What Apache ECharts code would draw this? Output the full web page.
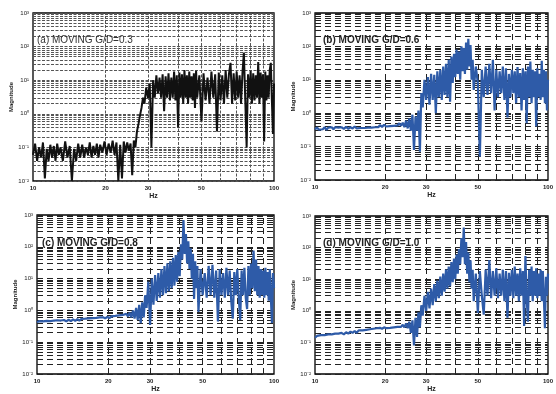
<!DOCTYPE html>
<html>
<head>
<meta charset="utf-8">
<script src="https://cdn.jsdelivr.net/npm/echarts@6/dist/echarts.min.js"></script>
<style>html,body{margin:0;padding:0;background:#fff}#c{width:556px;height:394px}</style>
</head>
<body>
<div id="c"></div>
<script>
// Frequencies (Hz) shared by all four spectra
const hz = [10,10.2,10.4,10.6,10.8,11,11.2,11.4,11.6,11.8,
12,12.2,12.4,12.6,12.8,
13,13.3,13.6,13.9,14.2,14.5,14.8,15.1,15.4,15.7,
16,16.3,16.6,16.9,17.2,17.5,17.8,18.1,18.4,18.7,19,
19.4,19.8,20.2,20.6,21,21.4,21.8,22.2,22.6,23,
23.4,23.8,24.2,24.6,25,25.4,25.8,26.2,26.6,27,
27.4,27.8,28.2,28.6,
29,29.5,30,30.5,31,31.5,32,32.5,33,33.5,
34,34.5,35,35.5,36,36.5,37,37.5,38,38.5,
39,39.5,40,40.5,41,41.5,42,42.5,43,43.5,
44,44.5,45,45.5,46,46.5,47,47.5,48,
49,50,51,52,53,54,55,56,57,58,
59,60,61,62,63,64,65,66,67,68,
69,70,71,72,73,74,75,76,77,78,
79,80,81,82,83,84,85,86,87,88,
89,90,91,92,93,94,95,96,97,98,99,100];

const magA = [0.06,0.13,0.04,0.1,0.05,0.14,0.012,0.09,0.04,0.12,
0.05,0.11,0.04,0.13,0.06,
0.1,0.04,0.15,0.05,0.11,0.01,0.09,0.04,0.13,0.05,
0.12,0.05,0.1,0.06,0.14,0.05,0.11,0.06,0.13,0.05,0.12,
0.07,0.15,0.06,0.13,0.07,0.16,0.06,0.14,0.01,0.12,
0.012,0.15,0.07,0.14,0.08,0.13,0.015,0.16,0.1,0.3,
0.5,0.9,1.5,3,
2,6,3,8,0.1,10,3,14,4,12,
3,15,1.2,13,3,16,2.5,12,3,18,
2.5,14,0.4,17,3,15,2,20,3,14,
2,18,3,13,2.5,16,1.5,19,3,
14,0.6,16,2.5,12,2,18,3,15,0.3,
17,2.5,14,2,20,3,15,33,2,16,
2.5,18,3,14,2,17,66,2.5,0.1,15,
3,19,2,16,2.5,14,3,35,2,17,
3,15,0.15,18,2.5,14,3,20,33,2.5,0.25,8];

const magB = [0.33,0.37,0.32,0.36,0.33,0.38,0.32,0.37,0.34,0.38,
0.33,0.38,0.34,0.37,0.33,
0.38,0.34,0.39,0.34,0.38,0.35,0.4,0.35,0.39,0.36,
0.4,0.36,0.41,0.37,0.42,0.37,0.41,0.38,0.43,0.38,0.44,
0.39,0.45,0.4,0.44,0.41,0.47,0.42,0.46,0.43,0.5,
0.42,0.52,0.38,0.6,0.35,0.7,0.3,0.9,0.08,0.8,
0.3,1.2,0.07,4,
1.5,10,2.5,12,1.8,15,2.5,14,1.0,18,
3,20,2.5,25,3.5,30,3,40,2.2,50,
8,60,12,80,15,70,10,100,18,90,
15,130,20,170,25,110,10,40,5,
25,8,0.05,20,3,25,3.5,30,4,40,
1.2,20,3,18,4,25,2.5,22,0.75,15,
3,20,4,18,2,24,3,16,1.2,22,
2.5,18,0.5,25,3,35,2,20,3,18,
0.4,22,3,15,2.5,37,3,20,2,18,1.2,10];

const magC = [0.42,0.46,0.41,0.45,0.42,0.47,0.43,0.46,0.42,0.48,
0.44,0.49,0.43,0.48,0.45,
0.5,0.45,0.51,0.46,0.52,0.47,0.53,0.48,0.54,0.49,
0.55,0.5,0.56,0.51,0.57,0.52,0.58,0.53,0.6,0.54,0.61,
0.56,0.63,0.57,0.65,0.58,0.67,0.6,0.7,0.62,0.72,
0.64,0.78,0.65,0.85,0.6,1.0,0.55,1.2,0.5,1.5,
0.4,1.8,0.6,3,
1.2,8,0.35,10,1.5,13,2,15,2.5,20,
3,25,3.5,30,4,35,5,45,6,55,
8,70,12,120,40,700,60,250,30,150,
20,90,10,60,2.3,35,5,25,0.9,
20,3,15,2.5,25,3,27,2.5,18,0.45,
20,3,15,2.5,22,3,18,2,0.55,16,
3,20,2.5,0.5,18,3,22,2.5,1.1,25,
3,30,5,76,4,40,3,25,2.5,20,
3,18,2.5,22,3,16,2,20,2.5,0.4,15,5];

const magD = [0.14,0.16,0.14,0.17,0.15,0.17,0.15,0.18,0.16,0.18,
0.16,0.19,0.17,0.19,0.17,
0.2,0.18,0.21,0.19,0.22,0.2,0.23,0.2,0.24,0.21,
0.24,0.22,0.25,0.23,0.26,0.24,0.27,0.25,0.28,0.26,0.29,
0.27,0.3,0.28,0.31,0.29,0.32,0.3,0.33,0.31,0.34,
0.31,0.36,0.3,0.4,0.28,0.45,0.2,0.5,0.08,0.6,
0.15,0.9,0.3,1.5,
0.7,3,1.0,4,1.2,5,1.5,7,2,9,
2.5,12,3,15,4,20,5,25,6,35,
8,45,10,60,15,90,30,200,50,430,
30,150,15,70,8,40,5,20,2,
15,0.85,18,3,0.75,20,3,40,2.5,18,
3,22,2.5,15,3,20,2,18,0.6,16,
3,20,2.5,25,3,15,2,22,3,18,
0.33,54,2.5,0.45,20,3,25,2,18,3,
22,2.5,15,3,20,2,18,2.5,0.28,12,3,15];

const titles = ['(a) MOVING G/D=0.3','(b) MOVING G/D=0.6','(c) MOVING G/D=0.8','(d) MOVING G/D=1.0'];
const hzTickLabels = [10,20,30,50,100];
const gridHz = [20,30,40,50,60,70,80,90];
const gridMag = [0.02,0.03,0.04,0.05,0.06,0.07,0.08,0.09,
0.2,0.3,0.4,0.5,0.6,0.7,0.8,0.9,
2,3,4,5,6,7,8,9,
20,30,40,50,60,70,80,90,
200,300,400,500,600,700,800,900];

const panels = [
  {mag: magA, color: '#111111', width: 2.0, grid: {left:33, top:13, width:241, height:168}, dash:[3,1.5], gcolor:'#555', title:{left:37, top:35}, bold:'normal', tcolor:'#333'},
  {mag: magB, color: '#2E5BA8', width: 2.2, grid: {left:315, top:13, width:241, height:167}, dash:[6,4], gcolor:'#222', title:{left:323, top:35}, bold:'bold', tcolor:'#222'},
  {mag: magC, color: '#2E5BA8', width: 2.2, grid: {left:37, top:215, width:237, height:167}, dash:[6,4], gcolor:'#222', title:{left:42, top:238}, bold:'bold', tcolor:'#222'},
  {mag: magD, color: '#2E5BA8', width: 2.2, grid: {left:315, top:216, width:234, height:166}, dash:[6,4], gcolor:'#222', title:{left:323, top:238}, bold:'bold', tcolor:'#222'}
];

const sup = {'-':'\u207B','0':'\u2070','1':'\u00B9','2':'\u00B2','3':'\u00B3'};
function supFmt(v){
  const e = String(Math.round(Math.log10(v)));
  return '10' + e.split('').map(c => sup[c]).join('');
}

const font = 'Liberation Sans, Arial, sans-serif';
const option = {
  animation: false,
  backgroundColor: '#fff',
  title: panels.map((p,i) => ({
    text: titles[i], left: p.title.left, top: p.title.top, padding: 0,
    textStyle: {fontSize: 10, fontWeight: p.bold, color: p.tcolor, fontFamily: font}
  })),
  grid: panels.map(p => Object.assign({show:true, borderColor:'#000', borderWidth:1.3, backgroundColor:'transparent'}, p.grid)),
  xAxis: panels.map((p,i) => ({
    gridIndex: i, type: 'log', logBase: 10, min: 10, max: 100,
    axisLine: {show:false}, axisTick: {show:false}, splitLine: {show:false},
    axisLabel: {customValues: hzTickLabels, fontSize: 6, margin: 4, color: '#222', fontFamily: font, fontWeight:'bold'},
    name: 'Hz', nameLocation: 'middle', nameGap: 12,
    nameTextStyle: {fontSize: 7, fontWeight: 'bold', color: '#222', fontFamily: font}
  })),
  yAxis: panels.map((p,i) => ({
    gridIndex: i, type: 'log', logBase: 10, min: 0.01, max: 1000,
    axisLine: {show:false}, axisTick: {show:false},
    splitLine: {show:true, lineStyle: {type: p.dash, color: p.gcolor, width:1}},
    axisLabel: {formatter: supFmt, fontSize: 6, margin: 4, color: '#222', fontFamily: font},
    name: 'Magnitude', nameLocation: 'middle', nameGap: 19, nameRotate: 90,
    nameTextStyle: {fontSize: 6, fontWeight: 'bold', color: '#222', fontFamily: font}
  })),
  series: panels.map((p,i) => ({
    type: 'line', xAxisIndex: i, yAxisIndex: i, z: 3,
    data: hz.map((f,k) => [f, p.mag[k]]),
    showSymbol: false, symbol: 'none', sampling: null,
    lineStyle: {color: p.color, width: p.width, join: 'bevel'},
    itemStyle: {color: p.color},
    markLine: {
      z: 1, silent: true, symbol: ['none','none'], label: {show:false},
      lineStyle: {type: p.dash, color: p.gcolor, width: 1},
      emphasis: {disabled: true},
      data: gridHz.map(v => ({xAxis: v})).concat(gridMag.map(v => ({yAxis: v})))
    }
  }))
};
const chart = echarts.init(document.getElementById('c'), null, {renderer:'canvas'});
chart.setOption(option);
</script>
</body>
</html>
